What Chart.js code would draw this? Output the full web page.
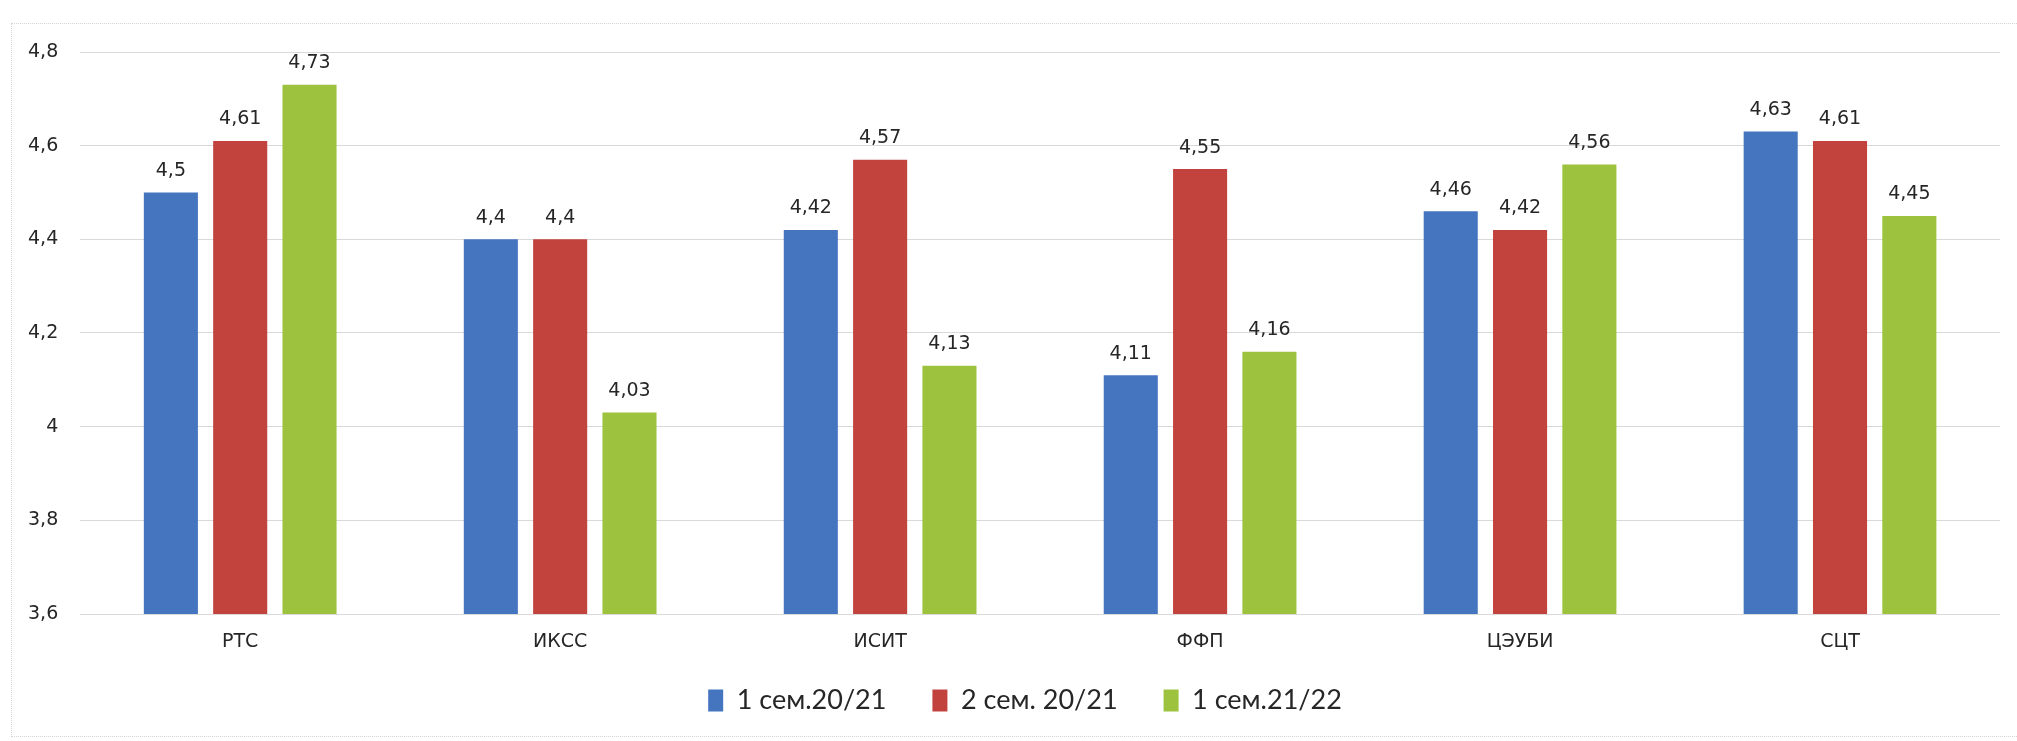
<!DOCTYPE html>
<html>
<head>
<meta charset="utf-8">
<script src="https://cdn.jsdelivr.net/npm/chart.js@4.4.1/dist/chart.umd.min.js"></script>
<style>
  html, body { margin: 0; padding: 0; background: #ffffff; }
  #wrap { position: relative; width: 2017px; height: 741px; }
  #frame { position: absolute; left: 11px; top: 23px; width: 2020px; height: 714px; border: 1px dotted #d4d4d4; box-sizing: border-box; pointer-events: none; }
  canvas { display: block; }
</style>
</head>
<body>
<div id="wrap">
  <canvas id="c" width="2017" height="741"></canvas>
  <div id="frame"></div>
</div>
<script>
const categories = ['РТС', 'ИКСС', 'ИСИТ', 'ФФП', 'ЦЭУБИ', 'СЦТ'];
const seriesNames = ['1 сем.20/21', '2 сем. 20/21', '1 сем.21/22'];
const sem1_2021 = [4.5, 4.4, 4.42, 4.11, 4.46, 4.63];
const sem2_2021 = [4.61, 4.4, 4.57, 4.55, 4.42, 4.61];
const sem1_2122 = [4.73, 4.03, 4.13, 4.16, 4.56, 4.45];
const yTicks = [3.6, 3.8, 4, 4.2, 4.4, 4.6, 4.8];

const colors = ['#4575be', '#c2433e', '#9cc23e'];
const fmt = v => String(v).replace('.', ',');

// value labels above bars + category labels under the x axis (positions from the library's scales)
const textPlugin = {
  id: 'textPlugin',
  afterLayout(chart) {
    // nudge the legend block right, as in the original
    if (chart.legend) { chart.legend.left += 22; chart.legend.right += 22; }
  },
  afterDatasetsDraw(chart) {
    const ctx = chart.ctx;
    ctx.save();
    ctx.font = '19px "DejaVu Sans", sans-serif';
    ctx.fillStyle = '#262626';
    ctx.textAlign = 'center';
    ctx.textBaseline = 'bottom';
    chart.data.datasets.forEach((ds, i) => {
      const meta = chart.getDatasetMeta(i);
      meta.data.forEach((bar, j) => {
        ctx.fillText(fmt(ds.data[j]), bar.x, bar.y - 12);
      });
    });
    const xs = chart.scales.x;
    ctx.textBaseline = 'middle';
    chart.data.labels.forEach((lab, i) => {
      ctx.fillText(lab, xs.getPixelForValue(i), chart.chartArea.bottom + 28);
    });
    ctx.restore();
  }
};

new Chart(document.getElementById('c'), {
  type: 'bar',
  data: {
    labels: categories,
    datasets: [
      { label: seriesNames[0], data: sem1_2021, backgroundColor: colors[0] },
      { label: seriesNames[1], data: sem2_2021, backgroundColor: colors[1] },
      { label: seriesNames[2], data: sem1_2122, backgroundColor: colors[2] }
    ]
  },
  options: {
    responsive: false,
    animation: false,
    devicePixelRatio: 1,
    layout: { padding: { left: 6, right: 17, top: 52, bottom: 17 } },
    datasets: { bar: { categoryPercentage: 0.65, barPercentage: 0.78 } },
    scales: {
      x: {
        grid: { display: false, drawTicks: false },
        border: { display: false },
        ticks: { display: false },
        afterFit: axis => { axis.height = 27; }
      },
      y: {
        min: 3.6, max: 4.8,
        afterBuildTicks: axis => { axis.ticks = yTicks.map(v => ({ value: v })); },
        grid: { color: '#d9d9d9', lineWidth: 1, drawTicks: false },
        border: { display: false },
        ticks: {
          color: '#262626', font: { family: 'DejaVu Sans', size: 19 }, padding: 22,
          callback: v => fmt(v)
        }
      }
    },
    plugins: {
      legend: {
        position: 'bottom',
        labels: {
          font: { family: 'Lato', size: 27 },
          color: '#262626',
          boxWidth: 15, boxHeight: 22,
          padding: 46
        }
      },
      tooltip: { enabled: false }
    }
  },
  plugins: [textPlugin]
});
</script>
</body>
</html>
